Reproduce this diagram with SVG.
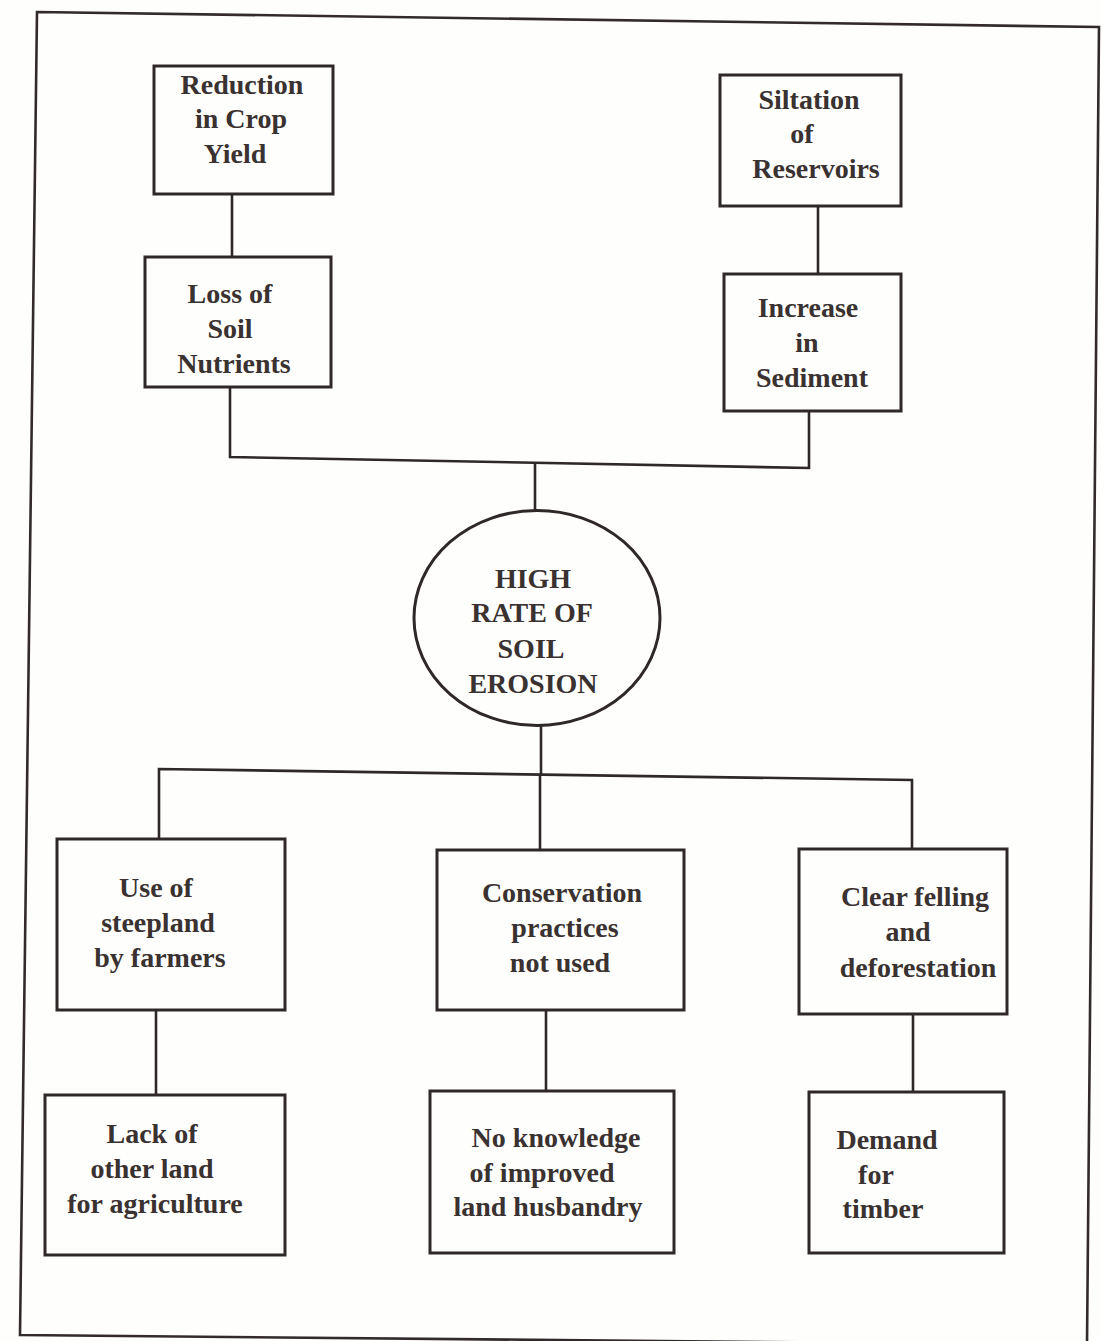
<svg xmlns="http://www.w3.org/2000/svg" width="1101" height="1341" viewBox="0 0 1101 1341">
  <style>
    .box { fill: none; stroke: #2f2828; stroke-width: 3; }
    .wire { fill: none; stroke: #2f2828; stroke-width: 2.6; }
    .frame { fill: none; stroke: #332b2b; stroke-width: 2.6; }
    text { font-family: "Liberation Serif", "Times New Roman", serif; font-weight: bold; font-size: 28px; fill: #3a3131; text-anchor: middle; }
  </style>
  <rect x="0" y="0" width="1101" height="1341" fill="#fefefc"/>

  <!-- page frame -->
  <polygon class="frame" points="37,12 1099,27 1087,1345 20,1335"/>

  <!-- connectors -->
  <g id="connectors">
    <line class="wire" x1="232" y1="194" x2="232" y2="257"/>
    <line class="wire" x1="818" y1="206" x2="818" y2="274"/>
    <polyline class="wire" points="230,387 230,457 809,468 809,411"/>
    <line class="wire" x1="535" y1="462" x2="535" y2="511"/>
    <line class="wire" x1="541" y1="726" x2="541" y2="775"/>
    <polyline class="wire" points="159,838 159,769 912,780 912,849"/>
    <line class="wire" x1="540" y1="775" x2="540" y2="850"/>
    <line class="wire" x1="156" y1="1010" x2="156" y2="1095"/>
    <line class="wire" x1="546" y1="1010" x2="546" y2="1091"/>
    <line class="wire" x1="913" y1="1014" x2="913" y2="1092"/>
  </g>

  <g id="reduction-crop-yield">
    <rect class="box" x="154" y="66" width="179" height="128"/>
    <text x="242" y="94">Reduction</text>
    <text x="241" y="128">in Crop</text>
    <text x="235" y="163">Yield</text>
  </g>

  <g id="loss-soil-nutrients">
    <rect class="box" x="145" y="257" width="186" height="130"/>
    <text x="230" y="303">Loss of</text>
    <text x="230" y="338">Soil</text>
    <text x="234" y="373">Nutrients</text>
  </g>

  <g id="siltation-reservoirs">
    <rect class="box" x="720" y="75" width="181" height="131"/>
    <text x="809" y="109">Siltation</text>
    <text x="802" y="143">of</text>
    <text x="816" y="178">Reservoirs</text>
  </g>

  <g id="increase-sediment">
    <rect class="box" x="724" y="274" width="177" height="137"/>
    <text x="808" y="317">Increase</text>
    <text x="807" y="352">in</text>
    <text x="812" y="387">Sediment</text>
  </g>

  <g id="soil-erosion">
    <ellipse class="box" cx="537" cy="618" rx="123" ry="107.5" fill="#fefefc"/>
    <text x="533" y="588">HIGH</text>
    <text x="532" y="622">RATE OF</text>
    <text x="531" y="658">SOIL</text>
    <text x="533" y="693">EROSION</text>
  </g>

  <g id="steepland">
    <rect class="box" x="57" y="839" width="228" height="171"/>
    <text x="156" y="897">Use of</text>
    <text x="158" y="932">steepland</text>
    <text x="160" y="967">by farmers</text>
  </g>

  <g id="conservation">
    <rect class="box" x="437" y="850" width="247" height="160"/>
    <text x="562" y="902">Conservation</text>
    <text x="565" y="937">practices</text>
    <text x="560" y="972">not used</text>
  </g>

  <g id="clear-felling">
    <rect class="box" x="799" y="849" width="208" height="165"/>
    <text x="915" y="906">Clear felling</text>
    <text x="908" y="941">and</text>
    <text x="918" y="977">deforestation</text>
  </g>

  <g id="lack-of-land">
    <rect class="box" x="45" y="1095" width="240" height="160"/>
    <text x="152" y="1143">Lack of</text>
    <text x="152" y="1178">other land</text>
    <text x="155" y="1213">for agriculture</text>
  </g>

  <g id="no-knowledge">
    <rect class="box" x="430" y="1091" width="244" height="162"/>
    <text x="556" y="1147">No knowledge</text>
    <text x="542" y="1182">of improved</text>
    <text x="548" y="1216">land husbandry</text>
  </g>

  <g id="demand-timber">
    <rect class="box" x="809" y="1092" width="195" height="161"/>
    <text x="887" y="1149">Demand</text>
    <text x="876" y="1184">for</text>
    <text x="883" y="1218">timber</text>
  </g>
</svg>
